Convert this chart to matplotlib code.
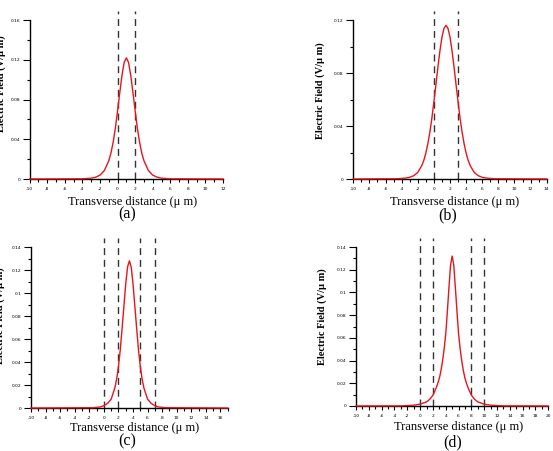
import matplotlib
matplotlib.use('Agg')
import matplotlib.pyplot as plt
from matplotlib.ticker import MultipleLocator

plt.rcParams['font.family'] = ['Liberation Serif', 'DejaVu Serif']
plt.rcParams['axes.unicode_minus'] = False

# field profiles
x_a = [-10, -4, -3, -2.5, -2, -1.5, -1, -0.75, -0.5, -0.25, 0, 0.25, 0.5, 0.75, 1,
       1.25, 1.5, 1.75, 2, 2.25, 2.5, 2.75, 3, 3.5, 4, 4.5, 5, 6, 12]
y_a = [0, 0.0002, 0.0008, 0.0018, 0.0039, 0.0086, 0.0184, 0.0262, 0.0372, 0.0512, 0.0687,
       0.0869, 0.1043, 0.1172, 0.122,
       0.1172, 0.1043, 0.0869, 0.0687, 0.0512, 0.0372, 0.0262, 0.0184, 0.0086, 0.0039,
       0.0018, 0.0008, 0.0002, 0]

x_b = [-10, -4.5, -3.5, -3, -2.5, -2, -1.5, -1.25, -1, -0.75, -0.5, -0.25, 0, 0.25, 0.5,
       0.75, 1, 1.25, 1.5,
       1.75, 2, 2.25, 2.5, 2.75, 3, 3.25, 3.5, 3.75, 4, 4.25, 4.5, 5, 5.5, 6, 6.5, 7.5, 14]
y_b = [0, 0.0002, 0.0007, 0.0013, 0.0025, 0.0050, 0.0102, 0.0141, 0.0196, 0.0266, 0.0354,
       0.0459, 0.0583, 0.0712, 0.0845, 0.0968, 0.1070, 0.1137, 0.116,
       0.1137, 0.1070, 0.0968, 0.0845, 0.0712, 0.0583, 0.0459, 0.0354, 0.0266, 0.0196,
       0.0141, 0.0102, 0.0050, 0.0025, 0.0013, 0.0007, 0.0002, 0]

x_c = [-10, -1.5, -0.5, 0, 0.5, 1, 1.5, 1.75, 2, 2.25, 2.5, 2.75, 3, 3.25, 3.5,
       3.75, 4, 4.25, 4.5, 4.75, 5, 5.25, 5.5, 6, 6.5, 7, 7.5, 8.5, 17]
y_c = [0, 0.0003, 0.0009, 0.0020, 0.0040, 0.0077, 0.0173, 0.0251, 0.0360, 0.0506, 0.0691,
       0.0887, 0.1080, 0.1226, 0.128,
       0.1226, 0.1080, 0.0887, 0.0691, 0.0506, 0.0360, 0.0251, 0.0173, 0.0077, 0.0040,
       0.0020, 0.0009, 0.0003, 0]

x_d = [-10, -3, -1, 0, 1, 1.5, 2, 2.5, 2.75, 3, 3.25, 3.5, 3.75, 4, 4.25, 4.5, 4.75, 5,
       5.25, 5.5, 5.75, 6, 6.25, 6.5, 6.75, 7, 7.25, 7.5, 8, 8.5, 9, 10, 11, 13, 20]
y_d = [0, 0.0001, 0.0007, 0.0016, 0.0036, 0.0059, 0.0095, 0.0158, 0.0198, 0.0244, 0.0310,
       0.0396, 0.0502, 0.0634, 0.0832, 0.1043, 0.1241, 0.132,
       0.1241, 0.1043, 0.0832, 0.0634, 0.0502, 0.0396, 0.0310, 0.0244, 0.0198, 0.0158,
       0.0095, 0.0059, 0.0036, 0.0016, 0.0007, 0.0001, 0]

# guide boundaries (dashed lines)
walls_a = [0, 2]
walls_b = [0, 3]
walls_c = [0, 2, 5, 7]
walls_d = [0, 2, 8, 10]

xlim_a, xlim_b, xlim_c, xlim_d = (-10, 12), (-10, 14), (-10, 17), (-10, 20)
xticks_a = list(range(-10, 13, 2))
xticks_b = list(range(-10, 15, 2))
xticks_c = list(range(-10, 17, 2))
xticks_d = list(range(-10, 21, 2))
yticks_a = [0, 0.04, 0.08, 0.12, 0.16]
yticks_b = [0, 0.04, 0.08, 0.12]
yticks_c = [0, 0.02, 0.04, 0.06, 0.08, 0.1, 0.12, 0.14]
yticks_d = [0, 0.02, 0.04, 0.06, 0.08, 0.1, 0.12, 0.14]

xlabel = 'Transverse distance (\u03bc m)'
ylabel = 'Electric Field (V/\u03bc m)'
letters = ['(a)', '(b)', '(c)', '(d)']


def draw_panel(ax, x, y, walls, xlim, xticks, yticks, yminor, xl_pos, yl_pos):
    ax.plot(x, y, color='#e8141c', lw=1.0, zorder=3, clip_on=False)
    for w in walls:
        ax.plot([w, w], [0, 1.055], transform=ax.get_xaxis_transform(), color='#333333',
                lw=1.0, dashes=(5, 3.5), clip_on=False, zorder=2)
    ax.set_xlim(*xlim)
    ax.set_ylim(yticks[0], yticks[-1])
    ax.set_xticks(xticks)
    ax.set_xticklabels(['%g' % t for t in xticks], fontsize=3.2, fontfamily='DejaVu Sans')
    ax.set_yticks(yticks)
    ax.set_yticklabels(['%g' % t for t in yticks], fontsize=3.2, fontfamily='DejaVu Sans')
    ax.xaxis.set_minor_locator(MultipleLocator(1))
    ax.yaxis.set_minor_locator(MultipleLocator(yminor))
    for s in ['top', 'right']:
        ax.spines[s].set_visible(False)
    for s in ['left', 'bottom']:
        ax.spines[s].set_linewidth(1.0)
    ax.tick_params(axis='y', which='major', direction='out', length=4.8, width=0.8, pad=2)
    ax.tick_params(axis='y', which='minor', direction='out', length=2.4, width=0.8)
    ax.tick_params(axis='x', which='major', direction='out', length=3, width=0.8, pad=3)
    ax.tick_params(axis='x', which='minor', direction='out', length=2.5, width=0.8)
    ax.set_xlabel(xlabel, fontsize=9)
    ax.xaxis.label.set_va('center')
    ax.xaxis.set_label_coords(*xl_pos)
    ax.set_ylabel(ylabel, fontsize=7.5, fontweight='bold')
    ax.yaxis.label.set_va('center')
    ax.yaxis.set_label_coords(*yl_pos)


fig = plt.figure(figsize=(5.53, 4.51), dpi=100)
ax_a = fig.add_axes([0.0537, 0.6031, 0.3496, 0.3525])
ax_b = fig.add_axes([0.6389, 0.6031, 0.3497, 0.3525])
ax_c = fig.add_axes([0.0561, 0.0953, 0.3557, 0.3570])
ax_d = fig.add_axes([0.6438, 0.0998, 0.3477, 0.3525])

draw_panel(ax_a, x_a, y_a, walls_a, xlim_a, xticks_a, yticks_a, 0.02, (0.532, -0.142), (-0.146, 0.60))
draw_panel(ax_b, x_b, y_b, walls_b, xlim_b, xticks_b, yticks_b, 0.02, (0.526, -0.142), (-0.170, 0.557))
draw_panel(ax_c, x_c, y_c, walls_c, xlim_c, xticks_c, yticks_c, 0.01, (0.526, -0.127), (-0.155, 0.571))
draw_panel(ax_d, x_d, y_d, walls_d, xlim_d, xticks_d, yticks_d, 0.01, (0.533, -0.132), (-0.178, 0.563))

letter_pos = [(0.2297, 0.5245), (0.8092, 0.5225), (0.2297, 0.0220), (0.8192, 0.0195)]
for lab, (px, py) in zip(letters, letter_pos):
    fig.text(px, py, lab, fontsize=11.5, ha='center', va='center')

fig.savefig('out.png', dpi=100)
